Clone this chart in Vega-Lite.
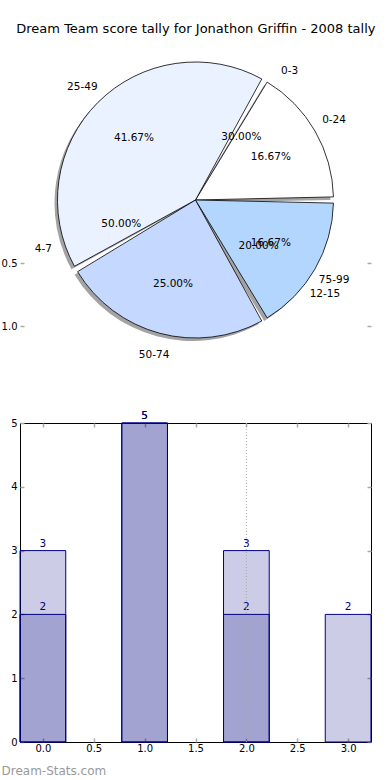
{
  "$schema": "https://vega.github.io/schema/vega-lite/v6.json",
  "padding": {"left": 0, "top": 23, "right": 0, "bottom": 0},
  "background": "white",
  "title": {"text": "Dream Team score tally for Jonathon Griffin - 2008 tally", "fontSize": 13, "fontWeight": "normal", "font": "DejaVu Sans", "color": "black", "anchor": "middle", "offset": 14, "dx": 9.5},
  "spacing": 49,
  "datasets": {
    "pie1": [
      {"label": "0-24", "n": 2, "i": 1, "pct": "16.67%"},
      {"label": "25-49", "n": 5, "i": 2, "pct": "41.67%"},
      {"label": "50-74", "n": 3, "i": 3, "pct": "25.00%"},
      {"label": "75-99", "n": 2, "i": 4, "pct": "16.67%"}
    ],
    "pie2": [
      {"label": "0-3", "n": 3, "i": 1, "pct": "30.00%"},
      {"label": "4-7", "n": 5, "i": 2, "pct": "50.00%"},
      {"label": "12-15", "n": 2, "i": 3, "pct": "20.00%"}
    ],
    "bars": [
      {"x": 0, "s": "B", "v": 3},
      {"x": 1, "s": "B", "v": 5},
      {"x": 2, "s": "B", "v": 3},
      {"x": 3, "s": "B", "v": 2},
      {"x": 0, "s": "A", "v": 2},
      {"x": 1, "s": "A", "v": 5},
      {"x": 2, "s": "A", "v": 2}
    ]
  },
  "vconcat": [
    {
      "width": 351,
      "height": 300,
      "view": {"stroke": null},
      "data": {"name": "pie1"},
      "layer": [
        {
          "mark": {"type": "arc", "outerRadius": 138, "padAngle": 0.045, "color": "#666", "opacity": 0.6, "xOffset": -3, "yOffset": 3},
          "encoding": {
            "theta": {"field": "n", "type": "quantitative", "stack": true, "scale": {"range": [1.5708, -4.7124]}},
            "order": {"field": "i", "type": "quantitative"}
          }
        },
        {
          "mark": {"type": "arc", "outerRadius": 138, "padAngle": 0.045, "stroke": "black", "strokeWidth": 0.8},
          "encoding": {
            "theta": {"field": "n", "type": "quantitative", "stack": true, "scale": {"range": [1.5708, -4.7124]}},
            "order": {"field": "i", "type": "quantitative"},
            "color": {"field": "label", "type": "nominal", "legend": null,
              "scale": {"domain": ["0-24", "25-49", "50-74", "75-99"], "range": ["#ffffff", "#ebf2ff", "#c5d8ff", "#b3d6ff"]}}
          }
        },
        {
          "mark": {"type": "text", "radius": 160, "fontSize": 10.5, "color": "black"},
          "encoding": {
            "theta": {"field": "n", "type": "quantitative", "stack": true, "scale": {"range": [1.5708, -4.7124]}},
            "order": {"field": "i", "type": "quantitative"},
            "text": {"field": "label"}
          }
        },
        {
          "mark": {"type": "text", "radius": 87, "fontSize": 10.5, "color": "black"},
          "encoding": {
            "theta": {"field": "n", "type": "quantitative", "stack": true, "scale": {"range": [1.5708, -4.7124]}},
            "order": {"field": "i", "type": "quantitative"},
            "text": {"field": "pct"}
          }
        },
        {
          "data": {"name": "pie2"},
          "mark": {"type": "text", "radius": 160, "fontSize": 10.5, "color": "black"},
          "encoding": {
            "theta": {"field": "n", "type": "quantitative", "stack": true, "scale": {"range": [1.5708, -4.7124]}},
            "order": {"field": "i", "type": "quantitative"},
            "text": {"field": "label"}
          }
        },
        {
          "data": {"name": "pie2"},
          "mark": {"type": "text", "radius": 78, "fontSize": 10.5, "color": "black"},
          "encoding": {
            "theta": {"field": "n", "type": "quantitative", "stack": true, "scale": {"range": [1.5708, -4.7124]}},
            "order": {"field": "i", "type": "quantitative"},
            "text": {"field": "pct"}
          }
        },
        {
          "data": {"values": [{}]},
          "mark": {"type": "point", "opacity": 0},
          "encoding": {
            "y": {"datum": 0, "type": "quantitative", "scale": {"domain": [-1.19, 1.19], "reverse": true, "nice": false, "zero": false},
              "axis": {"orient": "left", "values": [0.5, 1.0], "format": ".1f", "title": null}}
          }
        },
        {
          "data": {"values": [{}]},
          "mark": {"type": "point", "opacity": 0},
          "encoding": {
            "y": {"datum": 0, "type": "quantitative", "scale": {"domain": [-1.19, 1.19], "reverse": true, "nice": false, "zero": false},
              "axis": {"orient": "right", "values": [0.5, 1.0], "labels": false, "title": null}}
          }
        }
      ],
      "resolve": {"scale": {"theta": "independent"}, "axis": {"y": "independent"}}
    },
    {
      "width": 351,
      "height": 319,
      "data": {"name": "bars"},
      "layer": [
        {
          "mark": {"type": "bar", "width": 45.7, "fill": "#000080", "fillOpacity": 0.2, "stroke": "#000080", "strokeWidth": 1},
          "encoding": {
            "x": {"field": "x", "type": "quantitative", "scale": {"domain": [-0.225, 3.225], "nice": false, "zero": false, "padding": 0},
              "axis": {"orient": "bottom", "values": [0, 0.5, 1, 1.5, 2, 2.5, 3], "format": ".1f", "labelPadding": 5,
                "title": "Dream-Stats.com", "titleAnchor": "start", "titleAlign": "left", "titleX": -19, "titleY": 28, "titleBaseline": "middle",
                "titleColor": "#999", "titleFontWeight": "normal", "titleFontSize": 12, "titleFont": "DejaVu Sans"}},
            "y": {"field": "v", "type": "quantitative", "stack": null, "scale": {"domain": [0, 5], "nice": false, "padding": 0},
              "axis": {"orient": "left", "values": [0, 1, 2, 3, 4, 5], "format": "d", "title": null}}
          }
        },
        {
          "mark": {"type": "text", "dy": -7, "color": "#000080", "fontSize": 10.5},
          "encoding": {
            "x": {"field": "x", "type": "quantitative", "axis": null},
            "y": {"field": "v", "type": "quantitative", "stack": null, "axis": null},
            "text": {"field": "v"}
          }
        },
        {
          "data": {"values": [{}]},
          "mark": {"type": "rule", "color": "#aaa", "strokeDash": [1, 2], "strokeWidth": 1},
          "encoding": {"x": {"datum": 2, "type": "quantitative", "axis": null}}
        },
        {
          "data": {"values": [{}]},
          "mark": {"type": "point", "opacity": 0},
          "encoding": {
            "x": {"datum": 0, "type": "quantitative", "axis": {"orient": "top", "values": [0, 0.5, 1, 1.5, 2, 2.5, 3], "labels": false, "title": null}},
            "y": {"datum": 0, "type": "quantitative", "axis": {"orient": "right", "values": [0, 1, 2, 3, 4, 5], "labels": false, "title": null}}
          }
        }
      ],
      "resolve": {"axis": {"x": "independent", "y": "independent"}}
    }
  ],
  "config": {
    "font": "DejaVu Sans",
    "view": {"stroke": "black", "strokeWidth": 1},
    "axis": {"domain": false, "grid": false, "ticks": true, "tickColor": "#aaa", "tickSize": -4, "tickWidth": 1.5, "labelFontSize": 10, "labelColor": "black", "labelPadding": 7, "labelFont": "DejaVu Sans"}
  }
}
